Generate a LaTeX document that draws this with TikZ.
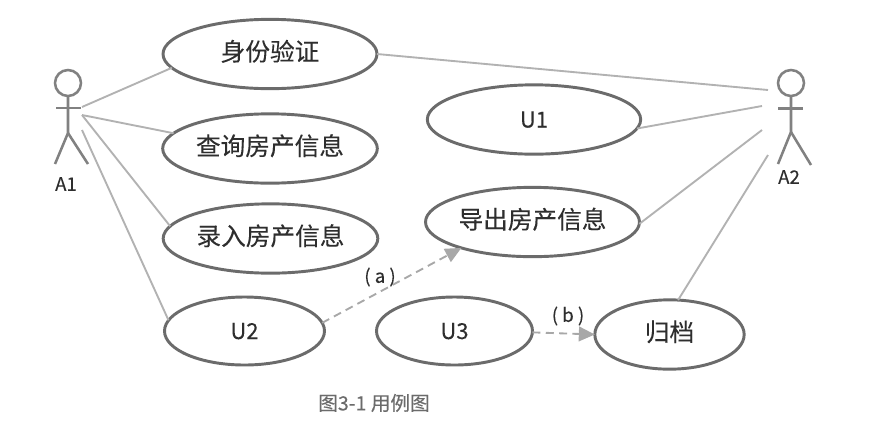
\documentclass[tikz,border=0pt]{standalone}
\usepackage{fontspec}
\setmainfont[FakeBold=0.15]{Noto Sans CJK SC}
\setsansfont{Noto Sans CJK SC}
\usetikzlibrary{shapes.geometric,arrows.meta}
\definecolor{ucedge}{gray}{0.42}
\definecolor{ucline}{gray}{0.70}
\definecolor{uctext}{gray}{0.18}
\definecolor{ucdash}{gray}{0.66}
\tikzset{
  uc/.style={ellipse,draw=ucedge,line width=2.2pt,fill=white,inner sep=0pt,outer sep=0pt,text=uctext,font=\fontsize{18.5pt}{20pt}\selectfont,text height=10pt,text depth=0pt},
  ucsmall/.style={uc,font=\fontsize{16.5pt}{18pt}\selectfont,text height=12pt},
  assoc/.style={draw=ucline,line width=1.4pt},
  dep/.style={draw=ucdash,line width=1.4pt,dash pattern=on 6pt off 4pt,-{Triangle[length=12pt,width=11pt,fill=ucdash]}},
  figure/.style={draw=ucedge!85,line width=1.9pt},
  actorhead/.style={circle,draw=ucedge!85,line width=1.9pt,inner sep=0pt,outer sep=0pt,minimum size=19.5pt},
  lbl/.style={text=uctext,inner sep=0pt,font=\fontsize{14pt}{16pt}\selectfont}
}
\begin{document}
\begin{tikzpicture}[x=0.75pt,y=-0.75pt]
\useasboundingbox[fill=white] (0,0) rectangle (882,444);
% use cases
\node[uc,minimum width=160.5pt,minimum height=52pt] (u1) at (270,54) {身份验证};
\node[uc,minimum width=161pt,minimum height=52pt] (u2) at (270,148.5) {查询房产信息};
\node[uc,minimum width=161pt,minimum height=52pt] (u3) at (270.5,238.5) {录入房产信息};
\node[ucsmall,minimum width=120pt,minimum height=51pt] (u4) at (244.5,331) {U2};
\node[ucsmall,minimum width=160pt,minimum height=52pt] (u5) at (534,119.5) {U1};
\node[uc,minimum width=160.5pt,minimum height=52pt] (u6) at (532.5,222) {导出房产信息};
\node[ucsmall,minimum width=117pt,minimum height=51pt] (u7) at (454.5,331) {U3};
\node[uc,minimum width=112pt,minimum height=52pt] (u8) at (669.5,334.5) {归档};
% actor A1
\node[actorhead] (h1) at (68,83) {};
\coordinate (c1) at (68,133);
\coordinate (al1) at (56,108);
\coordinate (ar1) at (81,108);
\coordinate (fl1) at (55,164);
\coordinate (fr1) at (88,164);
\draw[figure] (h1.south) -- (c1) -- (fl1);
\draw[figure] (c1) -- (fr1);
\draw[figure] (al1) -- (ar1);
\node[lbl] (a1) at (66,184) {A1};
% actor A2
\node[actorhead] (h2) at (791,83) {};
\coordinate (c2) at (791,132);
\coordinate (al2) at (778,108.5);
\coordinate (ar2) at (803,108.5);
\coordinate (fl2) at (778,164);
\coordinate (fr2) at (811,165);
\draw[figure] (h2.south) -- (c2) -- (fl2);
\draw[figure] (c2) -- (fr2);
\draw[figure] (al2) -- (ar2);
\node[lbl] (a2) at (789,177) {A2};
% free ends near the actors
\coordinate (p1) at (82,107);
\coordinate (p2) at (82,115);
\coordinate (p3) at (82,115);
\coordinate (p4) at (82,130);
\coordinate (q1) at (768,90);
\coordinate (q2) at (762,106);
\coordinate (q3) at (762,130);
\coordinate (q4) at (768,155);
% associations
\draw[assoc] (p1) -- (u1.188);
\draw[assoc] (p2) -- (u2.171);
\draw[assoc] (p3) -- (u3.173);
\draw[assoc] (p4) -- (u4.172);
\draw[assoc] (u1.east) -- (q1);
\draw[assoc] (u5.-5) -- (q2);
\draw[assoc] (u6.-1) -- (q3);
\draw[assoc] (u8.76) -- (q4);
% dependencies
\draw[dep] (u4.6) -- (u6.200);
\draw[dep] (u7.-1) -- (u8.west);
\node[lbl] (la) at (380,277) {( a )};
\node[lbl] (lb) at (568,316) {( b )};
% caption
\node[inner sep=0pt,text=ucedge,font=\fontsize{14.7pt}{16pt}\selectfont] (cap) at (374,403) {图3-1 用例图};
\end{tikzpicture}
\end{document}
